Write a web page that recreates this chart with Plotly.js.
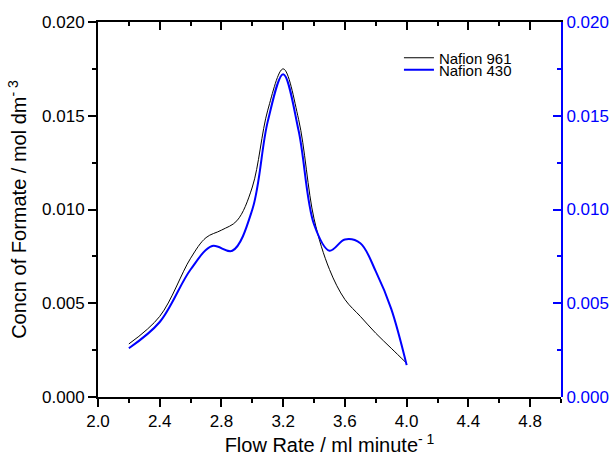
<!DOCTYPE html>
<html>
<head>
<meta charset="utf-8">
<script src="https://cdn.plot.ly/plotly-3.0.1.min.js"></script>
<style>html,body{margin:0;padding:0;background:#fff;}#chart{width:615px;height:456px;}</style>
</head>
<body>
<div id="chart"></div>
<script>
// Nafion 961 (black)
const x961 = [2.2, 2.4, 2.6, 2.7, 2.8, 2.9, 3.0, 3.1, 3.2, 3.3, 3.4, 3.5, 3.6, 3.7, 3.8, 3.9, 4.0];
const y961 = [0.00283, 0.0043, 0.0074, 0.0085, 0.0089, 0.0094, 0.0112, 0.0153, 0.0175, 0.0148, 0.0095, 0.0068, 0.0052, 0.0043, 0.0034, 0.0026, 0.0018];
// Nafion 430 (blue)
const x430 = [2.2, 2.4, 2.6, 2.74, 2.87, 3.0, 3.1, 3.2, 3.3, 3.4, 3.5, 3.6, 3.7, 3.8, 3.9, 4.0];
const y430 = [0.0026, 0.0040, 0.0068, 0.00805, 0.0078, 0.0100, 0.0147, 0.01722, 0.0142, 0.0092, 0.0078, 0.0084, 0.0082, 0.0067, 0.0047, 0.0017];
const xTickStart = 2.0, xTickStep = 0.4, xMinorStep = 0.2;
const yTickStart = 0.000, yTickStep = 0.005, yMinorStep = 0.0025;

const FONT = 'Liberation Sans, Arial, sans-serif';
const traces = [
  {x: x961, y: y961, name: 'Nafion 961', type: 'scatter', mode: 'lines', legend: 'legend',
   line: {color: '#000000', width: 1, shape: 'spline', smoothing: 1}, xaxis: 'x', yaxis: 'y'},
  {x: x430, y: y430, name: 'Nafion 430', type: 'scatter', mode: 'lines', legend: 'legend2',
   line: {color: '#0000ff', width: 2, shape: 'spline', smoothing: 1}, xaxis: 'x2', yaxis: 'y2'}
];
function xAxis(extra) {
  return Object.assign({range: [2.0, 5.0], tickmode: 'linear', tick0: xTickStart, dtick: xTickStep, tickformat: '.1f',
    showgrid: false, zeroline: false, showline: true, linecolor: '#000', linewidth: 2,
    tickcolor: '#000', tickwidth: 2, ticklen: 8, domain: [0, 1]}, extra);
}
function yAxis(extra) {
  return Object.assign({range: [0, 0.020], tickmode: 'linear', tick0: yTickStart, dtick: yTickStep, tickformat: '.3f',
    showgrid: false, zeroline: false, showline: true, linewidth: 2, tickwidth: 2, ticklen: 8, domain: [0, 1]}, extra);
}
const legendCommon = {x: 0.65, xanchor: 'left', yanchor: 'middle', bgcolor: 'rgba(0,0,0,0)',
  font: {family: FONT, size: 15, color: '#000'}};
const layout = {
  width: 615, height: 456,
  margin: {l: 98, r: 54, t: 22, b: 59},
  paper_bgcolor: '#fff', plot_bgcolor: 'rgba(0,0,0,0)',
  font: {family: FONT, size: 17, color: '#000'},
  showlegend: true,
  legend: Object.assign({}, legendCommon, {y: 0.904}),
  legend2: Object.assign({}, legendCommon, {y: 0.872}),
  xaxis: xAxis({side: 'bottom', ticks: 'outside', anchor: 'y', mirror: true, layer: 'below traces',
    minor: {dtick: xMinorStep, tick0: xTickStart, ticks: 'outside', ticklen: 4, tickwidth: 2, tickcolor: '#000'},
    title: {text: 'Flow Rate / ml minute<sup>- 1</sup>', font: {family: FONT, size: 20}, standoff: 15}}),
  xaxis2: xAxis({side: 'top', ticks: 'inside', anchor: 'y2', showticklabels: false,
    minor: {dtick: xMinorStep, tick0: xTickStart, ticks: 'inside', ticklen: 4, tickwidth: 2, tickcolor: '#000'}}),
  yaxis: yAxis({ticks: 'outside', anchor: 'x', linecolor: '#000', tickcolor: '#000', layer: 'below traces',
    minor: {dtick: yMinorStep, tick0: 0, ticks: 'outside', ticklen: 4, tickwidth: 2, tickcolor: '#000'},
    title: {text: 'Concn of Formate / mol dm<sup>- 3</sup>', font: {family: FONT, size: 20}, standoff: 10}}),
  yaxis2: yAxis({side: 'right', anchor: 'x2', ticks: 'inside',
    linecolor: '#0000ff', tickcolor: '#0000ff',
    tickfont: {color: '#0000ff', family: FONT, size: 17},
    minor: {dtick: yMinorStep, tick0: 0, ticks: 'inside', ticklen: 4, tickwidth: 2, tickcolor: '#0000ff'}})
};
Plotly.newPlot('chart', traces, layout, {displayModeBar: false, staticPlot: true});
</script>
</body>
</html>
